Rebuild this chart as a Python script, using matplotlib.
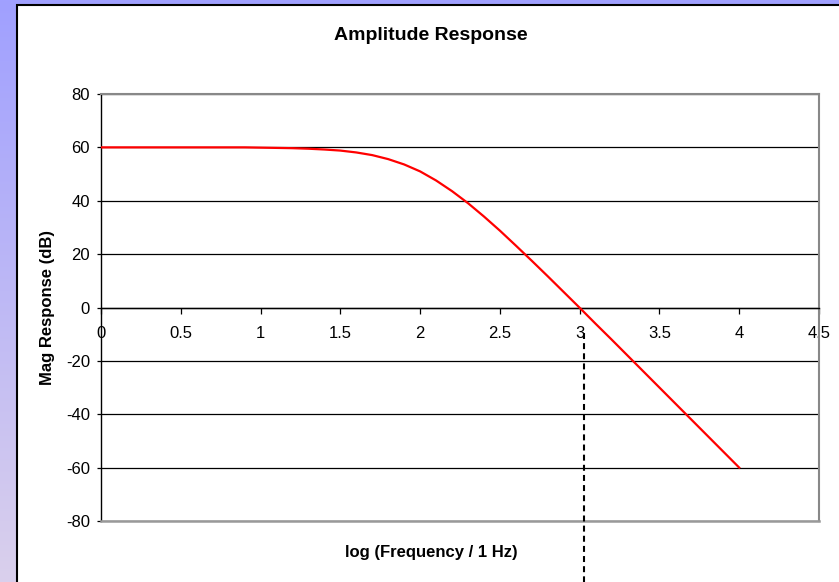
import matplotlib
matplotlib.use("Agg")
import matplotlib.pyplot as plt
import matplotlib.patches as mpatches
import numpy as np

# ---- data ----
log_freq = [0.0, 0.1, 0.2, 0.3, 0.4, 0.5, 0.6, 0.7, 0.8, 0.9,
            1.0, 1.1, 1.2, 1.3, 1.4, 1.5, 1.6, 1.7, 1.8, 1.9,
            2.0, 2.1, 2.2, 2.3, 2.4, 2.5, 2.6, 2.7, 2.8, 2.9,
            3.0, 3.1, 3.2, 3.3, 3.4, 3.5, 3.6, 3.7, 3.8, 3.9, 4.0]
mag_db = [60.0, 60.0, 60.0, 60.0, 60.0, 60.0, 60.0, 60.0, 60.0, 60.0,
          59.9, 59.8, 59.7, 59.5, 59.2, 58.8, 58.1, 57.1, 55.6, 53.6,
          51.0, 47.6, 43.6, 39.1, 34.1, 28.8, 23.2, 17.5, 11.7, 5.8,
          -0.1, -6.1, -12.0, -18.0, -24.0, -30.0, -36.0, -42.0, -48.0, -54.0, -60.0]
marker_x = [3.03, 3.03]
marker_y = [-9.5, -110.0]

x_ticks = [0, 0.5, 1, 1.5, 2, 2.5, 3, 3.5, 4, 4.5]
x_ticklabels = ["0", "0.5", "1", "1.5", "2", "2.5", "3", "3.5", "4", "4.5"]
y_ticks = [-80, -60, -40, -20, 0, 20, 40, 60, 80]
y_ticklabels = ["-80", "-60", "-40", "-20", "0", "20", "40", "60", "80"]

title = "Amplitude Response"
xlabel = "log (Frequency / 1 Hz)"
ylabel = "Mag Response (dB)"

plt.rcParams['font.family'] = ['Liberation Sans', 'DejaVu Sans']
plt.rcParams['axes.unicode_minus'] = False
plt.rcParams['lines.scale_dashes'] = False

W, H = 839, 582
fig = plt.figure(figsize=(W / 100, H / 100), dpi=100)

# background gradient
bg = fig.add_axes([0, 0, 1, 1], zorder=-10)
top_c = np.array([160, 160, 255]) / 255.0
bot_c = np.array([218, 208, 236]) / 255.0
t = np.linspace(0, 1, 256)[:, None]
grad = (top_c[None, :] * (1 - t) + bot_c[None, :] * t)[:, None, :]
bg.imshow(grad, aspect='auto', extent=[0, 1, 0, 1], origin='upper')
bg.set_axis_off()

# white chart area with black border (top/left)
chart = mpatches.Rectangle((16.5 / W, -0.1), 1.2, (H - 4.5) / H + 0.1,
                           transform=fig.transFigure, facecolor='white',
                           edgecolor='black', linewidth=1.5, zorder=-5)
fig.patches.append(chart)

# plot area
L, R, T, B = 101, 819, 94, 521
ax = fig.add_axes([L / W, (H - B) / H, (R - L) / W, (B - T) / H])
ax.set_facecolor('none')
ax.set_xlim(0, 4.5)
ax.set_ylim(-80, 80)

ax.yaxis.grid(True, color='black', linewidth=0.9)
ax.set_axisbelow('line')

ax.spines['bottom'].set_position(('data', 0))
ax.spines['bottom'].set_color('black')
ax.spines['bottom'].set_linewidth(1.0)
ax.spines['left'].set_color('black')
ax.spines['left'].set_linewidth(1.0)
for s in ['top', 'right']:
    ax.spines[s].set_color('#888888')
    ax.spines[s].set_linewidth(1.5)
ax.axhline(-80, color='#999999', linewidth=1.8, zorder=2.6, clip_on=False)
ax.spines['top'].set_zorder(2.6)

ax.set_xticks(x_ticks)
ax.set_xticklabels(x_ticklabels)
ax.set_yticks(y_ticks)
ax.set_yticklabels(y_ticklabels)
ax.tick_params(axis='x', direction='out', length=4, width=0.9, pad=9,
               labelsize=12, colors='black')
ax.tick_params(axis='y', direction='out', length=3, width=0.9, pad=5,
               labelsize=12, colors='black')

ax.plot(log_freq, mag_db, color='#ff0000', linewidth=1.6, zorder=3)
ax.plot(marker_x, marker_y, color='black', linewidth=1.5,
        linestyle=(0, (4.3, 3.0)), clip_on=False, zorder=4)

fig.text(431 / W, 1 - 40 / H, title, ha='center', va='baseline',
         fontsize=14, fontweight='bold')
fig.text(431 / W, 1 - 557 / H, xlabel, ha='center', va='baseline',
         fontsize=12, fontweight='bold')
fig.text(48 / W, 1 - 307.5 / H, ylabel, ha='center', va='center',
         rotation=90, fontsize=12, fontweight='bold')

fig.savefig('out.png', dpi=100)
